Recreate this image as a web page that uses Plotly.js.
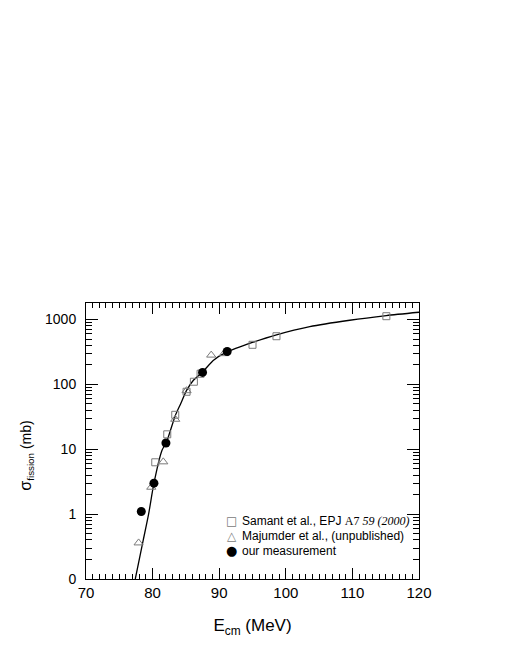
<!DOCTYPE html>
<html>
<head>
<meta charset="utf-8">
<script src="https://cdn.plot.ly/plotly-3.0.1.min.js"></script>
<style>
  body { margin: 0; background: #fff; }
  #chart { width: 505px; height: 654px; }
</style>
</head>
<body>
<div id="chart"></div>
<script>
// fit curve
var curveE = [77.4, 78.6, 79.4, 80.2, 81.4, 82.1, 83.4, 84.2, 85.1, 86.1, 87.5, 89.1, 91.1, 95.1, 98.6, 103.6, 109.6, 115.1, 120];
var curveSigma = [0.1, 0.4, 1.0, 3.0, 9.6, 13, 33, 50, 81, 115, 155, 234, 314, 447, 582, 778, 975, 1150, 1295];

// Samant et al.
var samantE = [80.4, 82.2, 83.4, 85.1, 86.2, 87.2, 95.0, 98.6, 115.1];
var samantSigma = [6.3, 17, 34, 77, 110, 146, 408, 553, 1126];

// Majumder et al.
var majumderE = [77.9, 79.8, 81.6, 83.4, 85.1, 88.8, 90.7];
var majumderSigma = [0.36, 2.6, 6.4, 29, 80, 283, 298];

// our measurement
var ourE = [78.3, 80.2, 82.0, 87.5, 91.2];
var ourSigma = [1.1, 3.0, 12.5, 153, 322];

var seriesNames = [
  'Samant et al., EPJ <span style="font-family:Liberation Serif,Times New Roman,serif">A7 <i>59 (2000)</i></span>',
  'Majumder et al., (unpublished)',
  'our measurement'
];
var seriesGlyphs = ['□', '△', '●'];

var yTickVals = [0.1, 1, 10, 100, 1000];
var yTickText = ['0', '1', '10', '100', '1000'];

var minorY = [];
yTickVals.forEach(function(d) {
  for (var k = 2; k <= 9; k++) minorY.push(d * k);
});

var grey = '#7a7a7a';
var font = 'Liberation Sans, Arial, Helvetica, sans-serif';
var glyphColors = [grey, grey, '#000'];

var traceCurve = {
  x: curveE, y: curveSigma,
  mode: 'lines',
  line: {color: '#000', width: 1.3, shape: 'spline', smoothing: 0.6},
  hoverinfo: 'skip'
};

var traceSamant = {
  x: samantE, y: samantSigma,
  mode: 'markers',
  marker: {symbol: 'square-open', size: 7, color: grey, line: {width: 1, color: grey}}
};

var traceMajumder = {
  x: majumderE, y: majumderSigma,
  mode: 'markers',
  marker: {symbol: 'triangle-up-open', size: 8, color: grey, line: {width: 1, color: grey}}
};

var traceOur = {
  x: ourE, y: ourSigma,
  mode: 'markers',
  marker: {symbol: 'circle', size: 9, color: '#000'}
};

// hand-made legend (rows 15px apart, glyph right beside the text)
var legendTop = 0.211, legendStep = 0.0545;
var annotations = [];
seriesNames.forEach(function(name, i) {
  var yy = legendTop - i * legendStep;
  annotations.push({
    text: seriesGlyphs[i], xref: 'paper', yref: 'paper',
    x: 0.4384, y: yy, xanchor: 'center', yanchor: 'middle',
    showarrow: false, font: {family: 'DejaVu Sans, sans-serif', size: i === 2 ? 13 : 12, color: glyphColors[i]}
  });
  annotations.push({
    text: name, xref: 'paper', yref: 'paper',
    x: 0.4625, y: yy, xanchor: 'left', yanchor: 'middle',
    showarrow: false, font: {family: font, size: 12, color: '#000'}
  });
});

annotations.push({
  text: '<span style="font-size:16px">σ</span><sub>fission</sub> (mb)',
  textangle: -90,
  xref: 'paper', yref: 'paper',
  x: -0.178, y: 0.446,
  xanchor: 'center', yanchor: 'middle',
  showarrow: false,
  font: {family: font, size: 14, color: '#000'}
});

var layout = {
  width: 505, height: 654,
  margin: {l: 86, r: 86, t: 303, b: 75},
  paper_bgcolor: '#fff', plot_bgcolor: '#fff',
  font: {family: font, color: '#000', size: 15},
  showlegend: false,
  xaxis: {
    range: [70, 120],
    dtick: 10, tick0: 70,
    ticks: 'inside', ticklen: 11, tickwidth: 1, tickcolor: '#000',
    minor: {dtick: 1, ticks: 'inside', ticklen: 5, tickwidth: 1, tickcolor: '#000', showgrid: false},
    showline: true, linecolor: '#000', linewidth: 1, mirror: 'ticks',
    showgrid: false, zeroline: false,
    tickfont: {size: 15},
    title: {text: 'E<sub>cm</sub> (MeV)', font: {size: 17}, standoff: 19}
  },
  yaxis: {
    type: 'log',
    range: [-1, 3.255],
    tickvals: yTickVals, ticktext: yTickText,
    ticks: 'inside', ticklen: 12, tickwidth: 1, tickcolor: '#000',
    minor: {tickvals: minorY, ticks: 'inside', ticklen: 6, tickwidth: 1, tickcolor: '#000', showgrid: false},
    showline: true, linecolor: '#000', linewidth: 1, mirror: 'ticks',
    showgrid: false, zeroline: false,
    tickfont: {size: 14},
    ticklabelstandoff: 6
  },
  annotations: annotations
};

Plotly.newPlot('chart', [traceCurve, traceSamant, traceMajumder, traceOur], layout, {displayModeBar: false, staticPlot: true});
</script>
</body>
</html>
